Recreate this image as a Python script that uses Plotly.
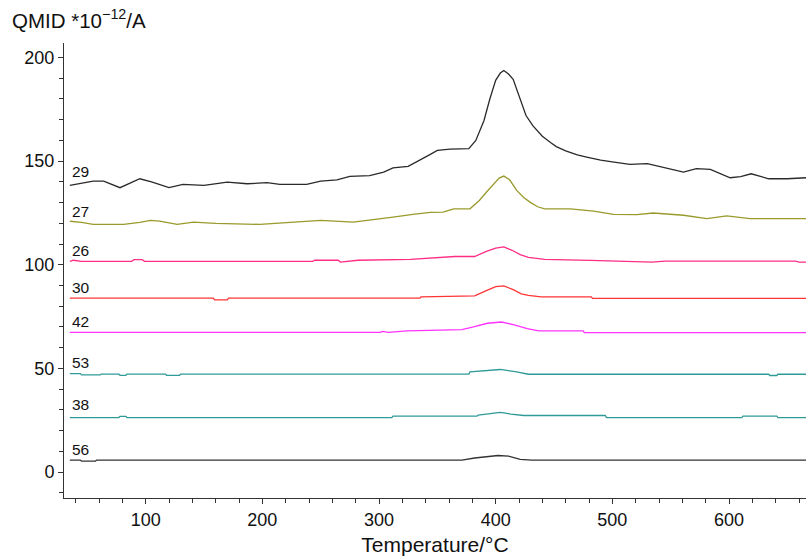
import plotly.graph_objects as go

# ---- data ----
labels = ["29", "27", "26", "30", "42", "53", "38", "56"]

t29 = [35, 44, 55, 64, 78, 95, 105, 120, 132, 150, 170, 187, 204, 215, 238, 250, 264, 275, 292, 304,
       312, 325, 335, 344, 350, 361, 377, 383, 390, 395, 400, 404, 407, 411, 415, 420, 426, 432, 440,
       447, 452, 460, 470, 478, 490, 500, 515, 530, 546, 561, 572, 584, 601, 610, 619, 634, 650, 666]
v29 = [138.3, 139.4, 140.4, 140.4, 137.2, 141.5, 140, 137.2, 138.8, 138.3, 139.9, 139.1, 139.6, 138.8,
       138.8, 140.4, 141, 142.7, 143, 144.7, 146.8, 147.5, 150.4, 153.3, 155.2, 155.8, 156, 160, 169.6,
       180, 189, 192.5, 193.7, 192, 189.5, 182, 172, 167, 162, 159, 157, 155, 153, 152, 150.5, 149.7,
       148.4, 148.8, 146.8, 144.7, 146.4, 146, 142, 142.5, 143.9, 141.5, 141.5, 142]

t27 = [35, 45, 55, 81, 95, 104, 112, 127, 141, 160, 198, 227, 250, 278, 298, 312, 329, 344, 355, 364,
       378, 386, 392, 398, 403, 407, 412, 418, 424, 430, 436, 442, 464, 484, 501, 521, 535, 561, 581,
       598, 618, 666]
v27 = [121, 120.5, 119.5, 119.5, 120.5, 121.4, 121.1, 119.5, 120.6, 120, 119.5, 120.6, 121.4, 120.6,
       121.8, 123, 124.3, 125.3, 125.4, 127, 127, 131, 135, 139, 141.8, 142.8, 141, 135.9, 132.5, 130,
       128, 127, 127, 125.9, 124.3, 124.2, 125, 123.9, 122.3, 123.6, 122.3, 122.3]

t26 = [35, 38, 45, 88, 90, 97, 99, 243, 245, 265, 267, 282, 327, 345, 365, 382, 392, 400, 407, 414,
       421, 428, 434, 442, 481, 534, 545, 657, 660, 666]
v26 = [101.7, 102.2, 101.7, 101.7, 102.5, 102.5, 101.7, 101.7, 102.2, 102.2, 101.3, 102.2, 102.6, 103.2,
       104, 104, 106.5, 108, 108.6, 107, 104.9, 103.6, 103.2, 102.6, 102.1, 101.3, 101.8, 101.8, 101.3,
       101.3]

t30 = [35, 158, 159, 170, 171, 335, 336, 382, 392, 400, 407, 415, 422, 428, 439, 482, 483, 666]
v30 = [83.9, 83.9, 83.1, 83.1, 83.9, 83.9, 84.5, 85, 87.5, 89.5, 89.8, 88, 86, 85.3, 84.5, 84.5, 83.8,
       83.8]

t42 = [35, 301, 303, 308, 324, 371, 381, 393, 405, 416, 427, 437, 475, 476, 666]
v42 = [67.4, 67.4, 67.9, 67.4, 68.1, 68.7, 70, 71.8, 72.4, 71, 69.2, 68.1, 68.1, 67.3, 67.3]

t53 = [35, 44, 45, 61, 62, 77, 78, 83, 84, 117, 118, 129, 130, 377, 378, 390, 404, 418, 428, 634, 635,
       641, 642, 666]
v53 = [47.5, 47.5, 46.9, 46.9, 47.3, 47.3, 46.7, 46.7, 47.3, 47.3, 46.7, 46.7, 47.3, 47.3, 48.3, 48.8,
       49.5, 48.3, 47.2, 47.2, 46.6, 46.6, 47.2, 47.2]

t38 = [35, 77, 78, 83, 84, 311, 312, 384, 385, 395, 404, 413, 424, 494, 495, 611, 612, 641, 642, 666]
v38 = [26.3, 26.3, 26.9, 26.9, 26.3, 26.3, 27, 27, 27.5, 28.2, 28.8, 28, 27.3, 27.3, 26.3, 26.3, 27,
       27, 26.3, 26.3]

t56 = [35, 44, 45, 57, 58, 371, 382, 392, 402, 411, 421, 431, 666]
v56 = [5.8, 5.8, 5.3, 5.3, 5.8, 5.8, 6.8, 7.5, 8, 7.7, 6.1, 5.8, 5.8]

x_ticks = [100, 200, 300, 400, 500, 600]
y_ticks = [0, 50, 100, 150, 200]

# ---- styling ----
series = [(t29, v29), (t27, v27), (t26, v26), (t30, v30), (t42, v42), (t53, v53), (t38, v38), (t56, v56)]
colors = ["#2a2a2a", "#9a9a2c", "#ff2d84", "#ff3535", "#ff33ff", "#2f9a98", "#2f9a98", "#333333"]
label_shift = [14, 10, 11, 11, 11, 11, 13, 11]
FONT = "Liberation Sans, Arial, Helvetica, sans-serif"

fig = go.Figure()
for (tx, vy), c, lab in zip(series, colors, labels):
    fig.add_trace(go.Scatter(x=tx, y=vy, mode="lines", line=dict(color=c, width=1.3),
                             name=lab, showlegend=False, hoverinfo="skip"))

for (tx, vy), lab, ys in zip(series, labels, label_shift):
    fig.add_annotation(x=tx[0], y=vy[0], text=lab, showarrow=False, xanchor="left", yanchor="middle",
                       xshift=0, yshift=ys, font=dict(family=FONT, size=15.5, color="#111"))

fig.add_annotation(xref="paper", yref="paper", x=-0.073, y=1.053, xanchor="left", yanchor="middle",
                   text="QMID *10<sup>\u221212</sup>/A", showarrow=False,
                   font=dict(family=FONT, size=20.5, color="#111"))

axis_common = dict(showline=True, linecolor="#333", linewidth=1, ticks="outside", ticklen=5,
                   tickcolor="#333", tickwidth=1, showgrid=False, zeroline=False,
                   tickfont=dict(family=FONT, size=18, color="#111"))

fig.update_xaxes(range=[30, 666], tickvals=x_ticks, **axis_common,
                 minor=dict(dtick=20, tick0=0, ticks="outside", ticklen=4, tickcolor="#333", showgrid=False),
                 title=dict(text="Temperature/\u00b0C", font=dict(family=FONT, size=21, color="#111"), standoff=8))
fig.update_yaxes(range=[-12.5, 207], tickvals=y_ticks, **axis_common, ticklabelstandoff=0,
                 minor=dict(dtick=10, tick0=0, ticks="outside", ticklen=4, tickcolor="#333", showgrid=False))

fig.update_layout(width=812, height=559, margin=dict(l=64, r=6, t=43, b=61),
                  plot_bgcolor="white", paper_bgcolor="white", font=dict(family=FONT))

fig.write_html("out.html")
